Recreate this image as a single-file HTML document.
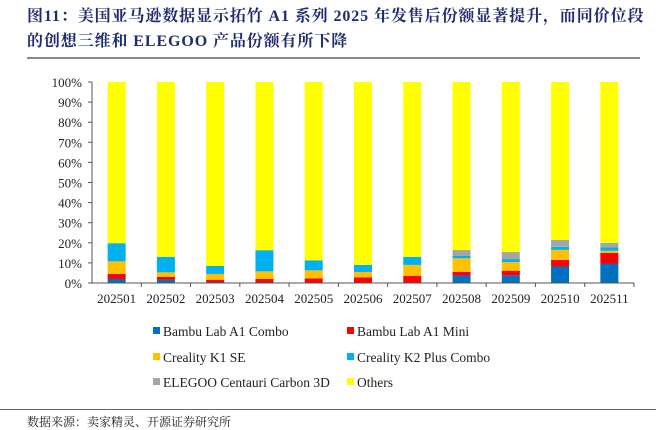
<!DOCTYPE html>
<html><head><meta charset="utf-8">
<style>
body{margin:0;width:656px;height:429px;background:#fff;position:relative;overflow:hidden;font-family:"Liberation Serif","Noto Serif CJK SC",serif}
.title{position:absolute;left:27px;top:4px;font-weight:bold;color:#1f2c6e;font-size:16px;letter-spacing:0.9px;line-height:25px;font-family:"Liberation Serif","Noto Serif CJK SC",serif;white-space:nowrap}
.src{position:absolute;left:27px;top:413px;font-size:12px;color:#222;font-family:"Liberation Serif","Noto Serif CJK SC",serif}
</style></head><body>
<div class="title">图11：美国亚马逊数据显示拓竹 A1 系列 2025 年发售后份额显著提升，而同价位段<br>的创想三维和 ELEGOO 产品份额有所下降</div>
<div style="position:absolute;left:27px;top:57px;width:613px;height:2px;background:#888"></div>
<svg id="chart" width="656" height="429" style="position:absolute;left:0;top:0"></svg>
<div style="position:absolute;left:0;top:409px;width:656px;height:1px;background:#666"></div>
<div class="src">数据来源：卖家精灵、开源证券研究所</div>
<script>
const categories=["202501","202502","202503","202504","202505","202506","202507","202508","202509","202510","202511"];
const seriesNames=["Bambu Lab A1 Combo","Bambu Lab A1 Mini","Creality K1 SE","Creality K2 Plus Combo","ELEGOO Centauri Carbon 3D","Others"];
const bambuCombo=[2,1.7,0.5,0,0,0,0,3.7,3.8,8.2,9.7];
const bambuMini=[2.5,1.3,1,2,2.3,2.8,3.5,1.8,2.3,3.3,5.3];
const crealityK1=[6.3,2.3,3,3.8,4,2.7,5.5,6.8,4.3,5,1];
const crealityK2=[9,7.7,4,10.5,5,3.5,4,1.3,1.5,1.5,1.7];
const elegoo=[0,0,0,0,0,0,0,2.8,3.5,3.5,2.2];
const yTicks=[0,10,20,30,40,50,60,70,80,90,100];
const colors=["#0070c0","#ff0000","#ffc000","#00b0f0","#a5a5a5","#ffff00"];
const ns="http://www.w3.org/2000/svg";
const svg=document.getElementById('chart');
const x0=92,x1=634,y0=283,y1=82,bw=18;
const step=(x1-x0)/categories.length;
const xC=i=>x0+step*(i+0.5);
const yS=v=>y0-(v/100)*(y0-y1);
function mk(t,a){const e=document.createElementNS(ns,t);for(const k in a)e.setAttribute(k,a[k]);svg.appendChild(e);return e;}
const known=[bambuCombo,bambuMini,crealityK1,crealityK2,elegoo];
yTicks.forEach(t=>{
 const l=mk('line',{x1:x0-4,x2:x0,y1:yS(t),y2:yS(t),stroke:'#555'});
 
 
 const tx=mk('text',{x:x0-10,y:yS(t)+5,'text-anchor':'end','font-size':13,fill:'#222','font-family':'Liberation Serif, serif'});
 tx.textContent=t+'%';
 
 
});
const ax=mk('line',{x1:x0,x2:x0,y1:y1,y2:y0,stroke:'#555'});


categories.forEach((c,i)=>{
 let acc=0;
 const vals=known.map(s=>s[i]);
 const sum=vals.reduce((a,b)=>a+b,0);
 vals.push(100-sum);
 vals.forEach((v,k)=>{
  if(v<=0)return;
  const r=mk('rect',{x:xC(i)-bw/2,y:yS(acc+v),width:bw,height:yS(acc)-yS(acc+v),fill:colors[k]});
  
  
  acc+=v;
 });
 const tk=mk('line',{x1:x0+step*(i+1),x2:x0+step*(i+1),y1:y0,y2:y0+4,stroke:'#555'});
 
 
 const tx=mk('text',{x:xC(i),y:y0+20,'text-anchor':'middle','font-size':13,fill:'#222','font-family':'Liberation Serif, serif'});
 tx.textContent=c;
 
 
});
const xa=mk('line',{x1:x0,x2:x1,y1:y0,y2:y0,stroke:'#555'});


const lx=[153,347],ly=[331,357,382];
seriesNames.forEach((n,k)=>{
 const x=lx[k%2],y=ly[Math.floor(k/2)];
 const s=mk('rect',{x:x,y:y-4,width:7,height:7,fill:colors[k]});
 
 
 const t=mk('text',{x:x+10,y:y+5,'font-size':13.5,fill:'#222','font-family':'Liberation Serif, serif'});
 t.textContent=n;
 
 
});
</script>
</body></html>
